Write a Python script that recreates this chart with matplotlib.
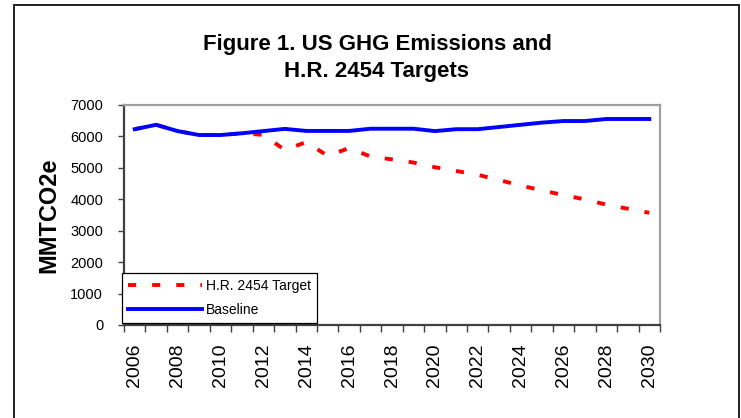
import numpy as np
import matplotlib.pyplot as plt
from matplotlib.patches import Rectangle

plt.rcParams['font.family'] = ['Liberation Sans', 'DejaVu Sans']

years = list(range(2006, 2031))
baseline = [6230, 6370, 6170, 6045, 6045, 6100, 6170, 6240, 6175, 6175, 6175,
            6245, 6245, 6245, 6170, 6230, 6230, 6300, 6370, 6440, 6490, 6490,
            6555, 6555, 6555]
target = [6230, 6370, 6170, 6045, 6045, 6100, 6050, 5570, 5820, 5380, 5630,
          5360, 5270, 5170, 5020, 4900, 4780, 4610, 4440, 4280, 4135, 3995,
          3830, 3700, 3570]
series_names = ['H.R. 2454 Target', 'Baseline']
title = 'Figure 1. US GHG Emissions and\nH.R. 2454 Targets'
ylabel = 'MMTCO2e'

W, H = 741, 418
fig = plt.figure(figsize=(W / 100, H / 100), dpi=100)
ax = fig.add_axes([124 / W, 1 - 325 / H, 536 / W, 220 / H])

x = np.arange(len(years)) + 0.5
ax.plot(x, target, color='red', lw=2.8, ls=(0, (2.1, 4.1)),
        dash_capstyle='butt', label=series_names[0])
ax.plot(x, baseline, color='blue', lw=2.8, label=series_names[1])

ax.set_xlim(0, len(years))
ax.set_ylim(0, 7000)
ax.set_yticks(range(0, 7001, 1000))
ax.set_xticks(np.arange(len(years) + 1))
ax.set_xticklabels([])
ax.set_xticks(x[::2], minor=True)
ax.set_xticklabels([str(y) for y in years[::2]], minor=True, rotation=90,
                   fontsize=14)
ax.tick_params(axis='x', which='minor', length=0, pad=13)
ax.tick_params(axis='x', which='major', length=5, width=1, color='#404040')
ax.tick_params(axis='y', length=4, width=1, color='#404040', labelsize=10.5, pad=11)

for s in ['top', 'right']:
    ax.spines[s].set_color('#a0a0a0')
    ax.spines[s].set_linewidth(1.6)
for s in ['left', 'bottom']:
    ax.spines[s].set_color('#404040')
    ax.spines[s].set_linewidth(1.6)

ax.set_ylabel(ylabel, fontsize=17, fontweight='bold')
ax.yaxis.set_label_coords(-64 / 536, 0.5)

fig.text(377 / W, 1 - 58 / H, title, ha='center', va='center',
         fontsize=16, fontweight='bold', linespacing=1.35)

leg = ax.legend(loc='lower left', bbox_to_anchor=(122 / W, 1 - 323 / H),
                bbox_transform=fig.transFigure, borderaxespad=0,
                fontsize=10, handlelength=5.3, handletextpad=0.3,
                labelspacing=0.7, borderpad=0.45, fancybox=False,
                framealpha=1, edgecolor='black')
leg.get_frame().set_linewidth(0.9)

fig.patches.append(Rectangle((14 / W, -0.05), 725 / W, 1 - 5 / H + 0.05,
                             transform=fig.transFigure, fill=False,
                             edgecolor='#202020', lw=1.4))

fig.savefig('out.png', dpi=100)
